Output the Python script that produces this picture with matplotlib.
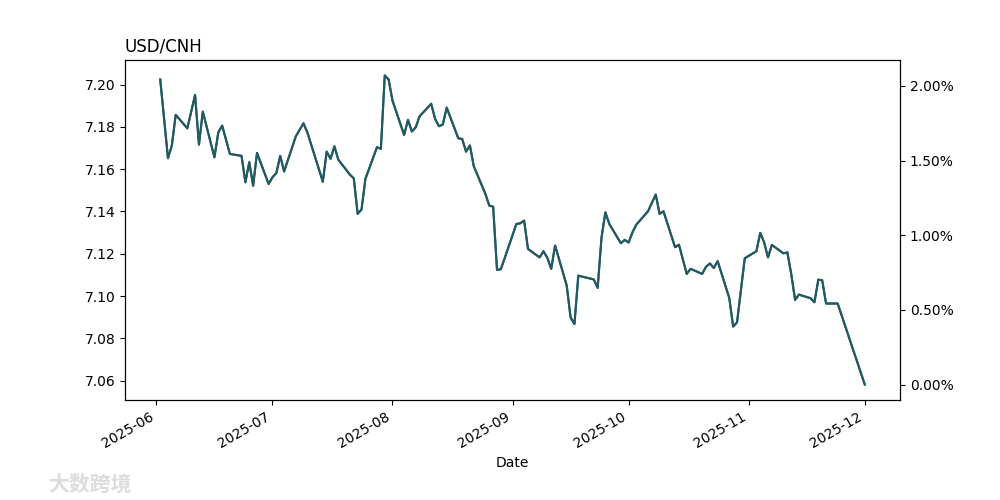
import pandas as pd
import matplotlib
matplotlib.use("Agg")
import matplotlib.pyplot as plt
import matplotlib.ticker as mtick

# USD/CNH closing quotes
dates = [
    "2025-06-02", "2025-06-04", "2025-06-05", "2025-06-06", "2025-06-09",
    "2025-06-11", "2025-06-12", "2025-06-13", "2025-06-16", "2025-06-17",
    "2025-06-18", "2025-06-20", "2025-06-23", "2025-06-24", "2025-06-25",
    "2025-06-26", "2025-06-27", "2025-06-30", "2025-07-01", "2025-07-02",
    "2025-07-03", "2025-07-04", "2025-07-07", "2025-07-09", "2025-07-10",
    "2025-07-14", "2025-07-15", "2025-07-16", "2025-07-17", "2025-07-18",
    "2025-07-21", "2025-07-22", "2025-07-23", "2025-07-24", "2025-07-25",
    "2025-07-28", "2025-07-29", "2025-07-30", "2025-07-31", "2025-08-01",
    "2025-08-04", "2025-08-05", "2025-08-06", "2025-08-07", "2025-08-08",
    "2025-08-11", "2025-08-12", "2025-08-13", "2025-08-14", "2025-08-15",
    "2025-08-18", "2025-08-19", "2025-08-20", "2025-08-21", "2025-08-22",
    "2025-08-25", "2025-08-26", "2025-08-27", "2025-08-28", "2025-08-29",
    "2025-09-02", "2025-09-03", "2025-09-04", "2025-09-05", "2025-09-08",
    "2025-09-09", "2025-09-10", "2025-09-11", "2025-09-12", "2025-09-15",
    "2025-09-16", "2025-09-17", "2025-09-18", "2025-09-19", "2025-09-22",
    "2025-09-23", "2025-09-24", "2025-09-25", "2025-09-26", "2025-09-29",
    "2025-09-30", "2025-10-01", "2025-10-02", "2025-10-03", "2025-10-06",
    "2025-10-08", "2025-10-09", "2025-10-10", "2025-10-13", "2025-10-14",
    "2025-10-16", "2025-10-17", "2025-10-20", "2025-10-21", "2025-10-22",
    "2025-10-23", "2025-10-24", "2025-10-27", "2025-10-28", "2025-10-29",
    "2025-10-31", "2025-11-03", "2025-11-04", "2025-11-05", "2025-11-06",
    "2025-11-07", "2025-11-10", "2025-11-11", "2025-11-12", "2025-11-13",
    "2025-11-14", "2025-11-17", "2025-11-18", "2025-11-19", "2025-11-20",
    "2025-11-21", "2025-11-24", "2025-12-01",
]
rates = [
    7.2024, 7.1652, 7.1712, 7.1857, 7.1793,
    7.1951, 7.1716, 7.1872, 7.1656, 7.1774,
    7.1806, 7.1672, 7.1663, 7.1538, 7.1633,
    7.1522, 7.1677, 7.1530, 7.1562, 7.1582,
    7.1663, 7.1589, 7.1754, 7.1817, 7.1774,
    7.1541, 7.1683, 7.1649, 7.1708, 7.1645,
    7.1574, 7.1557, 7.1389, 7.1409, 7.1554,
    7.1704, 7.1696, 7.2043, 7.2024, 7.1924,
    7.1762, 7.1833, 7.1778, 7.1798, 7.1850,
    7.1909, 7.1838, 7.1803, 7.1811, 7.1891,
    7.1746, 7.1743, 7.1683, 7.1712, 7.1614,
    7.1483, 7.1428, 7.1423, 7.1124, 7.1127,
    7.1341, 7.1344, 7.1357, 7.1223, 7.1183,
    7.1212, 7.1181, 7.1129, 7.1239, 7.1050,
    7.0900, 7.0868, 7.1097, 7.1092, 7.1079,
    7.1039, 7.1278, 7.1396, 7.1341, 7.1250,
    7.1266, 7.1253, 7.1302, 7.1338, 7.1401,
    7.1480, 7.1389, 7.1401, 7.1231, 7.1243,
    7.1105, 7.1129, 7.1105, 7.1139, 7.1154,
    7.1133, 7.1165, 7.0991, 7.0856, 7.0876,
    7.1179, 7.1212, 7.1299, 7.1254, 7.1183,
    7.1242, 7.1202, 7.1207, 7.1105, 7.0982,
    7.1007, 7.0990, 7.0971, 7.1078, 7.1075,
    7.0965, 7.0965, 7.0582,
]

line_color = '#235a62'

s = pd.Series(rates, index=pd.to_datetime(dates))
pct = (s / s.iloc[-1] - 1) * 100

fig, ax = plt.subplots(figsize=[10, 5])
ax.plot(s.index, s.values, color=line_color, lw=1.5)
ax.set_title('USD/CNH', loc='left')
ax.set_xlabel('Date')

ax2 = ax.twinx()
ax2.plot(pct.index, pct.values, color=line_color, lw=1.5)
ax2.yaxis.set_major_locator(mtick.MultipleLocator(0.5))
ax2.yaxis.set_major_formatter(mtick.PercentFormatter(xmax=100, decimals=2))

fig.autofmt_xdate()

# faint site watermark bottom left
fig.text(0.048, 0.018, '大数跨境', fontsize=15, color='#dcdcdc',
         family=['Noto Sans CJK SC', 'DejaVu Sans'], fontweight='bold')

plt.savefig('out.png', dpi=100)
